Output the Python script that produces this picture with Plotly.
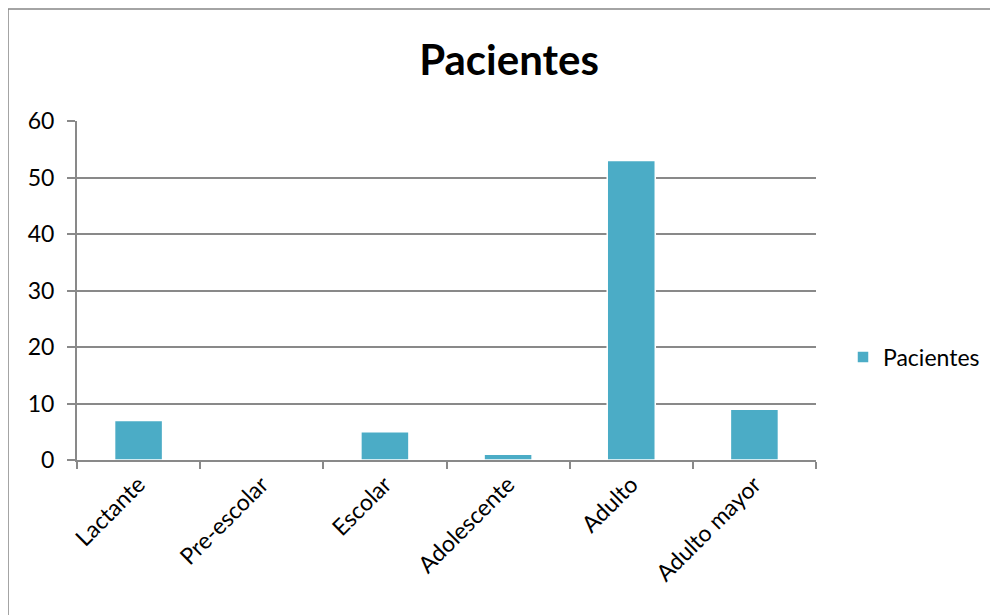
import plotly.graph_objects as go

categories = ["Lactante", "Pre-escolar", "Escolar", "Adolescente", "Adulto", "Adulto mayor"]
values = [7, 0, 5, 1, 53, 9]
series_name = "Pacientes"
y_ticks = [0, 10, 20, 30, 40, 50, 60]

FONT = "Lato, 'Open Sans', sans-serif"
GRID = "#898989"

OFF = 8  # default page margin of the browser
fig = go.Figure()
fig.add_trace(go.Bar(
    x=categories, y=values, name=series_name,
    marker=dict(color="#4BACC6", line=dict(color="#FFFFFF", width=1.5)),
    width=0.39,
))

# screen coordinates of the plot area
L, R, T, B = 77, 816, 121, 460
W, H = 998 - OFF, 615 - OFF
pw, ph = R - L, B - T

def px_x(x):
    return (x - L) / pw

def px_y(y):
    return (B - y) / ph

fig.update_layout(
    width=W, height=H,
    margin=dict(l=L - OFF, r=998 - R, t=T - OFF, b=615 - B, autoexpand=False),
    paper_bgcolor="white", plot_bgcolor="white",
    font=dict(family=FONT, size=23, color="#000000"),
    title=dict(text="<b>Pacientes</b>", x=(509 - OFF) / W, xanchor="center",
               y=1 - (60 - OFF) / H, yanchor="middle",
               font=dict(family=FONT, size=42, color="#000000")),
    showlegend=True,
    legend=dict(x=px_x(843), y=px_y(357), xanchor="left", yanchor="middle",
                font=dict(family=FONT, size=23), bgcolor="rgba(0,0,0,0)",
                itemwidth=30),
    bargap=0.61,
    xaxis=dict(
        showline=True, linecolor=GRID, linewidth=2,
        ticks="outside", tickson="boundaries", ticklen=7, tickcolor=GRID, tickwidth=2,
        tickangle=-45, tickfont=dict(family=FONT, size=23),
        showgrid=False, range=[-0.5, 5.5],
    ),
    yaxis=dict(
        range=[0, 60], tickvals=y_ticks, showgrid=True, gridcolor=GRID, gridwidth=1.5,
        showline=True, linecolor=GRID, linewidth=2,
        ticks="outside", ticklen=8, tickcolor=GRID, tickwidth=2,
        tickfont=dict(family=FONT, size=23), zeroline=False,
        ticklabelstandoff=8,
    ),
    shapes=[dict(type="rect", xref="paper", yref="paper",
                 x0=px_x(8), x1=px_x(1020), y0=px_y(640), y1=px_y(9),
                 line=dict(color="#868686", width=1.5), fillcolor="rgba(0,0,0,0)",
                 layer="below")],
)

fig.write_html("out.html")
